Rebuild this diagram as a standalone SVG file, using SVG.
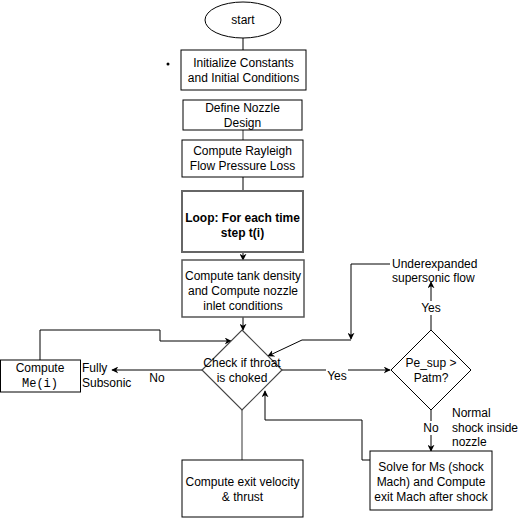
<svg xmlns="http://www.w3.org/2000/svg" width="521" height="521" viewBox="0 0 521 521">
<defs>
<marker id="ah" viewBox="0 0 10 10" refX="9" refY="5" markerWidth="7" markerHeight="7" orient="auto" markerUnits="userSpaceOnUse">
<path d="M0,0 L10,5 L0,10 L3,5 Z" fill="#000"/>
</marker>
</defs>
<style>
text{font-family:"Liberation Sans",Arial,sans-serif;font-size:12px;fill:#000}
.c{text-anchor:middle}
.box{fill:#fff;stroke:#000;stroke-width:1}
.gbox{fill:#fff;stroke:#555;stroke-width:1.5}
.lbox{fill:#fff;stroke:#666;stroke-width:2}
.ln{fill:none;stroke:#000;stroke-width:1}
.gl{fill:none;stroke:#777;stroke-width:1.5}
.arr{marker-end:url(#ah)}
.mono{font-family:"Liberation Mono","DejaVu Sans Mono",monospace;font-size:12px}
</style>
<rect width="521" height="521" fill="#fff"/>
<g id="connectors">
<path class="ln" d="M243,38 V50"/>
<path class="gl" d="M243,130 V140"/>
<path class="ln" d="M243,177 V191"/>
<path class="ln arr" d="M243,252 V260"/>
<path class="ln arr" d="M243,317 V330"/>
<path class="ln arr" d="M202,370 H112"/>
<path class="ln arr" d="M40,360 V330 H160 V341 H231"/>
<path class="ln arr" d="M282,370 H390"/>
<path class="ln arr" d="M431,330 V282"/>
<path class="ln arr" d="M390,264 H351 V339"/>
<path class="ln arr" d="M351,340 H302 L268,356"/>
<path class="ln arr" d="M431,410 V451"/>
<path class="ln arr" d="M370,460 H362 V420 H265 V391"/>
<path class="gl" d="M242,410 V460"/>
<rect x="148" y="371" width="18" height="14" fill="#fff"/>
<text x="157" y="382" class="c">No</text>
<rect x="326" y="369" width="22" height="14" fill="#fff"/>
<text x="337" y="380" class="c">Yes</text>
<rect x="420" y="301" width="22" height="14" fill="#fff"/>
<text x="431" y="312" class="c">Yes</text>
<rect x="422" y="421" width="18" height="14" fill="#fff"/>
<text x="431" y="432" class="c">No</text>
</g>
<g id="start">
<ellipse cx="243" cy="20" rx="38" ry="18" fill="#fff" stroke="#000"/>
<text x="243" y="24" class="c">start</text>
</g>
<g id="bullet"><circle cx="168" cy="64" r="1.5" fill="#000"/></g>
<g id="init">
<rect class="box" x="181" y="50" width="125" height="40"/>
<text x="243.5" y="67" class="c">Initialize Constants</text>
<text x="243.5" y="82" class="c">and Initial Conditions</text>
</g>
<g id="define">
<rect class="box" x="183" y="100" width="119" height="30"/>
<text x="242.5" y="112" class="c">Define Nozzle</text>
<text x="242.5" y="127" class="c">Design</text>
</g>
<g id="rayleigh">
<rect class="box" x="182" y="140" width="121" height="37"/>
<text x="242.5" y="155" class="c">Compute Rayleigh</text>
<text x="242.5" y="170" class="c">Flow Pressure Loss</text>
</g>
<g id="loop">
<rect class="lbox" x="182" y="191" width="121" height="61"/>
<text x="242.5" y="222" class="c" font-weight="bold">Loop: For each time</text>
<text x="242.5" y="237" class="c" font-weight="bold">step t(i)</text>
</g>
<g id="tank">
<rect class="gbox" x="182" y="260" width="122" height="57"/>
<text x="243" y="280" class="c">Compute tank density</text>
<text x="243" y="295" class="c">and Compute nozzle</text>
<text x="243" y="310" class="c">inlet conditions</text>
</g>
<g id="choked">
<path d="M242,330 L282,370 L242,410 L202,370 Z" fill="#fff" stroke="#444" stroke-width="1.2"/>
<text x="242" y="367" class="c">Check if throat</text>
<text x="242" y="382" class="c">is choked</text>
</g>
<g id="computeMe">
<rect class="box" x="0.5" y="360" width="80" height="32"/>
<text x="40" y="372" class="c">Compute</text>
<text x="40" y="387" class="c mono">Me(i)</text>
</g>
<g id="subsonic">
<text x="82" y="372">Fully</text>
<text x="82" y="387">Subsonic</text>
</g>
<g id="pesup">
<path d="M431,330 L471,370 L431,410 L391,370 Z" fill="#fff" stroke="#000"/>
<text x="431" y="367" class="c">Pe_sup &gt;</text>
<text x="431" y="382" class="c">Patm?</text>
</g>
<g id="underexpanded">
<text x="392" y="268">Underexpanded</text>
<text x="392" y="282">supersonic flow</text>
</g>
<g id="normalshock">
<text x="452" y="417">Normal</text>
<text x="452" y="432">shock inside</text>
<text x="452" y="446">nozzle</text>
</g>
<g id="solve">
<rect class="box" x="370" y="451" width="122" height="59"/>
<text x="431" y="471" class="c">Solve for Ms (shock</text>
<text x="431" y="486" class="c">Mach) and Compute</text>
<text x="431" y="501" class="c">exit Mach after shock</text>
</g>
<g id="exit">
<rect class="box" x="182" y="460" width="121" height="57"/>
<text x="242.5" y="486" class="c">Compute exit velocity</text>
<text x="242.5" y="501" class="c">&amp; thrust</text>
</g>
</svg>
